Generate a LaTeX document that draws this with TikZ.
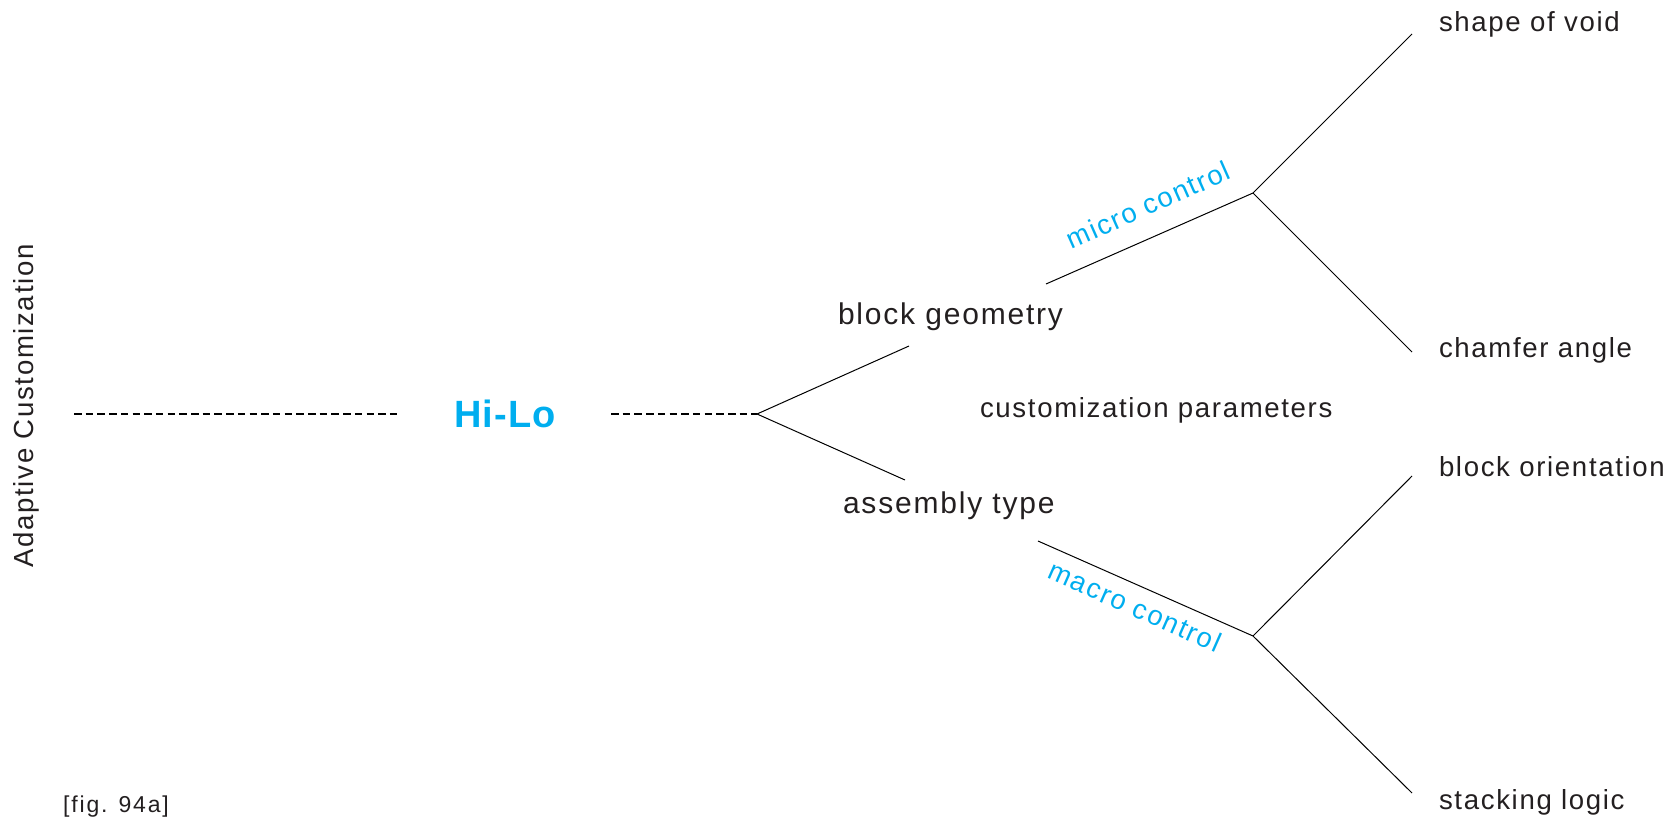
\documentclass[tikz,border=0pt]{standalone}
\usepackage{fontspec}
\setmainfont{Liberation Sans}
\newfontfamily\lblfont[LetterSpace=6]{Liberation Sans}
\newfontfamily\figfont[LetterSpace=8]{Liberation Sans}
\newfontfamily\hifont[LetterSpace=3]{Liberation Sans}
\definecolor{txt}{HTML}{231F20}
\definecolor{cyanlbl}{HTML}{00AEEF}
\begin{document}
\begin{tikzpicture}[x=1pt,y=-1pt,
  lbl/.style={inner sep=0pt, outer sep=0pt, text=txt, font=\lblfont\fontsize{27.6}{30}\selectfont, anchor=base west},
  biglbl/.style={lbl, font=\lblfont\fontsize{30}{33}\selectfont},
  ctl/.style={inner sep=0pt, outer sep=0pt, text=cyanlbl, font=\lblfont\fontsize{27.6}{30}\selectfont, anchor=base},
  branch/.style={draw=black, line width=1pt},
  dashline/.style={draw=black, line width=2.6pt, dash pattern=on 7.5pt off 4.2pt}]
\useasboundingbox (0,0) rectangle (1669,819);

% labels
\node[lbl, rotate=90, anchor=base] (adapt) at (33,406) {Adaptive Customization};
\node[inner sep=0pt, anchor=base, text=cyanlbl, font=\hifont\bfseries\fontsize{38}{40}\selectfont] (hilo) at (505,427) {Hi-Lo};
\node[biglbl] (geom) at (838,324) {block geometry};
\node[biglbl] (asm) at (843,513) {assembly type};
\node[lbl] (params) at (980,417) {customization parameters};
\node[lbl] (void) at (1439,31) {shape of void};
\node[lbl] (chamf) at (1439,357) {chamfer angle};
\node[lbl] (orient) at (1439,476) {block orientation};
\node[lbl] (stack) at (1439,809) {stacking logic};
\node[inner sep=0pt, anchor=base west, text=txt, font=\figfont\fontsize{23}{26}\selectfont] (fig) at (63,812) {[fig. 94a]};
\node[ctl, rotate=23.9] (micro) at (1152,214) {micro control};
\node[ctl, rotate=-23.9] (macro) at (1131,615.5) {macro control};

% connector points
\coordinate (ls) at (74,414);
\coordinate (le) at (399,414);
\coordinate (rs) at (611,414);
\coordinate (j0) at (757,414);
\coordinate (gIn) at (909,346);
\coordinate (aIn) at (905,480);
\coordinate (gOut) at (1046,284);
\coordinate (j1) at (1253,193);
\coordinate (vEnd) at (1412,34);
\coordinate (cEnd) at (1412,352);
\coordinate (aOut) at (1038,541);
\coordinate (j2) at (1253,636);
\coordinate (oEnd) at (1412,476);
\coordinate (sEnd) at (1412,793);

\draw[dashline] (ls) -- (le);
\draw[dashline] (rs) -- (j0);
\draw[branch] (j0) -- (gIn);
\draw[branch] (j0) -- (aIn);
\draw[branch] (gOut) -- (j1);
\draw[branch] (j1) -- (vEnd);
\draw[branch] (j1) -- (cEnd);
\draw[branch] (aOut) -- (j2);
\draw[branch] (j2) -- (oEnd);
\draw[branch] (j2) -- (sEnd);
\end{tikzpicture}
\end{document}
